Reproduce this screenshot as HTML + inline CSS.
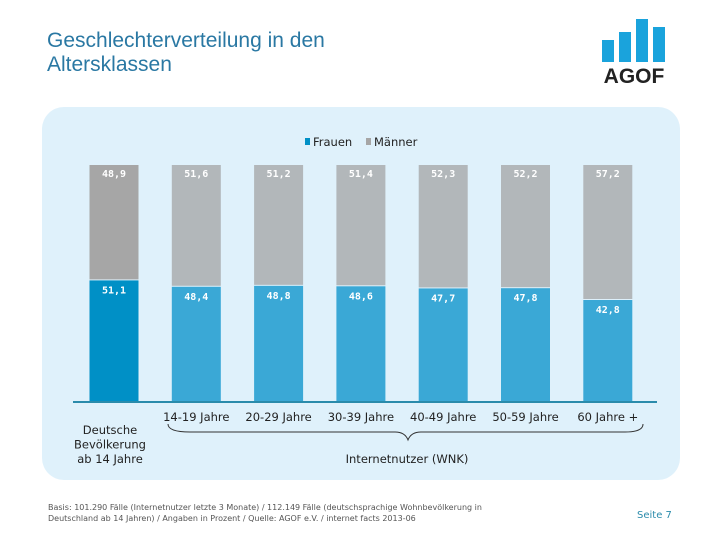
<!DOCTYPE html>
<html><head><meta charset="utf-8"><style>
body{margin:0;width:720px;height:540px;background:#fff;font-family:"DejaVu Sans","Liberation Sans",sans-serif;position:relative;overflow:hidden}
.t{position:absolute;white-space:nowrap}
</style></head><body>
<div class="t" style="left:47px;top:29px;font-size:21px;line-height:24px;color:#2a78a3;font-family:'Liberation Sans',sans-serif">Geschlechterverteilung in den<br>Altersklassen</div>
<svg style="position:absolute;left:598px;top:16px" width="80" height="72">
<rect x="4" y="24" width="12" height="22" fill="#1aa3dc"/><rect x="21" y="16" width="12" height="30" fill="#1aa3dc"/><rect x="38" y="3" width="12" height="43" fill="#1aa3dc"/><rect x="55" y="11" width="12" height="35" fill="#1aa3dc"/>
<text x="36" y="67" text-anchor="middle" font-family="Liberation Sans" font-weight="bold" font-size="21" fill="#222">AGOF</text></svg>
<div style="position:absolute;left:42px;top:107px;width:638px;height:373px;background:#dff1fb;border-radius:22px"></div>
<svg id="c" style="position:absolute;left:0;top:0" width="720" height="540"></svg>
<div class="t" style="left:48px;top:502px;font-size:8px;line-height:11px;color:#555">Basis: 101.290 Fälle (Internetnutzer letzte 3 Monate) / 112.149 Fälle (deutschsprachige Wohnbevölkerung in<br>Deutschland ab 14 Jahren) / Angaben in Prozent / Quelle: AGOF e.V. / internet facts 2013-06</div>
<div class="t" style="left:637px;top:510px;font-size:10px;color:#2a8bab">Seite 7</div>
<script>
const categories=["Deutsche Bevölkerung ab 14 Jahre","14-19 Jahre","20-29 Jahre","30-39 Jahre","40-49 Jahre","50-59 Jahre","60 Jahre +"];
const frauen=[51.1,48.4,48.8,48.6,47.7,47.8,42.8];
const maenner=[48.9,51.6,51.2,51.4,52.3,52.2,57.2];
const svg=document.getElementById('c');const NS='http://www.w3.org/2000/svg';
function el(t,a,p){const e=document.createElementNS(NS,t);for(const k in a)e.setAttribute(k,a[k]);(p||svg).appendChild(e);return e;}
const y0=401,y1=165;function y(v){return y0-(v/100)*(y0-y1);}
function xc(i){return 114+i*82.3;}
const bw=49;
categories.forEach((c,i)=>{
 const x=xc(i)-bw/2,tot=frauen[i]+maenner[i];
 const f=el('rect',{x:x,y:y(frauen[i]/tot*100),width:bw,height:y0-y(frauen[i]/tot*100),fill:i==0?'#0090c6':'#3aa8d6'});
 
 const m=el('rect',{x:x,y:y1,width:bw,height:y(frauen[i]/tot*100)-y1-1,fill:i==0?'#a6a6a6':'#b2b7ba'});
 
 const ft=el('text',{x:xc(i),y:y(frauen[i]/tot*100)+13,'text-anchor':'middle','font-size':'10','font-weight':'bold','font-family':'DejaVu Sans Mono',fill:'#fff'});ft.textContent=frauen[i].toFixed(1).replace('.',',');
 
 const mt=el('text',{x:xc(i),y:y1+12,'text-anchor':'middle','font-size':'10','font-weight':'bold','font-family':'DejaVu Sans Mono',fill:'#fff'});mt.textContent=maenner[i].toFixed(1).replace('.',',');
 
 if(i==0){['Deutsche','Bevölkerung','ab 14 Jahre'].forEach((s,k)=>{const t=el('text',{x:110,y:434+k*14.5,'text-anchor':'middle','font-size':'11.5',fill:'#222'});t.textContent=s;});}
 else{const t=el('text',{x:xc(i),y:421,'text-anchor':'middle','font-size':'11.5',fill:'#222'});t.textContent=c;}
});
const bl=el('line',{x1:73,y1:402,x2:657,y2:402,stroke:'#2a8bab','stroke-width':2});
const br=el('path',{d:'M168,424 Q168,432 190,432 L395,432 Q405,432 408,440 Q411,432 421,432 L625,432 Q643,432 643,424',fill:'none',stroke:'#333','stroke-width':1});
const it=el('text',{x:407,y:463,'text-anchor':'middle','font-size':'11.5',fill:'#222'});it.textContent='Internetnutzer (WNK)';
const l1=el('rect',{x:305,y:138,width:5,height:7,fill:'#0090c6'});
const lt1=el('text',{x:313,y:146,'font-size':'11.5',fill:'#222'});lt1.textContent='Frauen';
const l2=el('rect',{x:366,y:138,width:5,height:7,fill:'#a6a6a6'});
const lt2=el('text',{x:374,y:146,'font-size':'11.5',fill:'#222'});lt2.textContent='Männer';
</script>
</body></html>
